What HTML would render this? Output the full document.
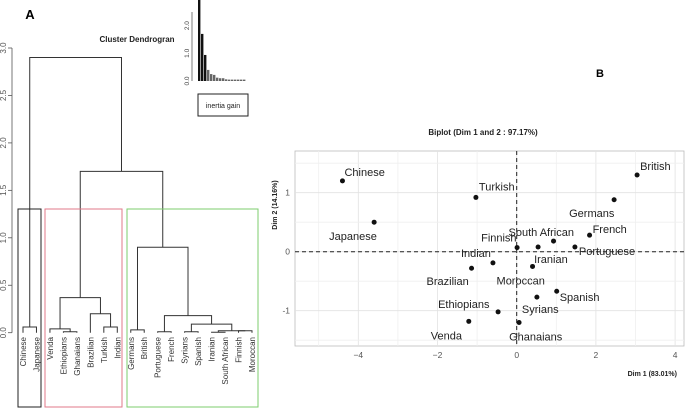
<!DOCTYPE html>
<html><head><meta charset="utf-8"><style>
body{margin:0;background:#fff;}
svg{display:block;font-family:"Liberation Sans",sans-serif;}
</style></head><body>
<svg id="c" width="685" height="408" viewBox="0 0 685 408">
<g id="dend"></g>
<g id="inset"></g>
<g id="bip"></g>
</svg>
<script>
// ---------- dendrogram data ----------
const leaves = ["Chinese","Japanese","Venda","Ethiopians","Ghanaians","Brazilian","Turkish","Indian","Germans","British","Portuguese","French","Syrians","Spanish","Iranian","South African","Finnish","Moroccan"];
// merges: negative = leaf index (1-based), positive = earlier merge (1-based)
const mergeA = [-1,-4,-3,-7,-6,-9,-11,-13,-17,-15,10,8,7,6,3,15,1];
const mergeB = [-2,-5,2,-8,4,-10,-12,-14,-18,-16,9,11,12,13,5,14,16];
const mergeH = [0.06,0.01,0.04,0.06,0.2,0.03,0.01,0.01,0.02,0.005,0.02,0.09,0.18,0.9,0.37,1.7,2.9];
const inertia = [3.2,1.7,0.94,0.4,0.25,0.22,0.12,0.1,0.1,0.06,0.05,0.05,0.05,0.05,0.05,0.05];
const dTicks = [0,0.5,1,1.5,2,2.5,3];
// ---------- biplot data ----------
const names = ["Chinese","Japanese","Turkish","British","Germans","French","South African","Portuguese","Iranian","Finnish","Indian","Brazilian","Moroccan","Spanish","Syrians","Ethiopians","Venda","Ghanaians"];
const dim1 = [-4.40,-3.60,-1.03,3.04,2.46,1.84,0.93,1.47,0.54,0.01,-0.60,-1.14,0.40,1.01,0.51,-0.47,-1.21,0.06];
const dim2 = [1.20,0.50,0.92,1.30,0.88,0.28,0.18,0.08,0.08,0.07,-0.19,-0.28,-0.25,-0.67,-0.77,-1.02,-1.18,-1.20];
const xTicks = [-4,-2,0,2,4];
const yTicks = [-1,0,1];
// label offsets (style)
const ldx=[2,-45,3,3,-45,3,-45,4,-4,-36,-32,-45,-36,3,-15,-60,-38,-10];
const ldy=[-5,18,-7,-5,17,-2,-5,8,16,-6,-6,17,18,10,16,-4,18,18];

const NS="http://www.w3.org/2000/svg";
function mk(p,t,a,txt){const e=document.createElementNS(NS,t);for(const k in a)e.setAttribute(k,a[k]);if(txt!==undefined)e.textContent=txt;p.appendChild(e);return e;}

// ===== dendrogram =====
const D=document.getElementById('dend');
const dy=v=>332.7-v*94.9;
const lx=i=>23+i*13.47;
mk(D,'text',{x:30,y:19,'font-size':13,'font-weight':'bold','text-anchor':'middle',},'A');
mk(D,'text',{x:137,y:42,'font-size':8,'font-weight':'bold','text-anchor':'middle',fill:'#222',},'Cluster Dendrogran');
let ax=mk(D,'line',{x1:12,x2:12,y1:dy(0),y2:dy(3),stroke:'#555','stroke-width':0.8});

dTicks.forEach(t=>{const y=dy(t);
 const l=mk(D,'line',{x1:8,x2:12,y1:y,y2:y,stroke:'#555','stroke-width':0.8});
 
 const tx=mk(D,'text',{x:6,y:y,'font-size':8,fill:'#555','text-anchor':'middle',transform:`rotate(-90 6 ${y})`},t.toFixed(1));
 });
const pos=[];
function node(r){ if(r<0){return {x:lx(-r-1),h:0};} return pos[r-1]; }
for(let i=0;i<mergeA.length;i++){
 const a=node(mergeA[i]),b=node(mergeB[i]),h=mergeH[i];
 const p=mk(D,'path',{d:`M${a.x},${dy(a.h)}V${dy(h)}H${b.x}V${dy(b.h)}`,fill:'none',stroke:'#333','stroke-width':1});
 
 pos.push({x:(a.x+b.x)/2,h:h});
}
leaves.forEach((n,i)=>{const x=lx(i)+3,y=337;
 const t=mk(D,'text',{x:x,y:y,'font-size':8,fill:'#333','text-anchor':'end',transform:`rotate(-90 ${x} ${y})`},n);
 });
[[18,41,'#222','cluster-box-1'],[45,122,'#e07a8a','cluster-box-2'],[127,258,'#7ccd6e','cluster-box-3']].forEach(b=>{
 const r=mk(D,'rect',{x:b[0],y:209,width:b[1]-b[0],height:198,fill:'none',stroke:b[2],'stroke-width':1});
 });

// ===== inset =====
const I=document.getElementById('inset');
const iy=v=>Math.max(0,81-v*27.7);
mk(I,'line',{x1:192,x2:192,y1:81,y2:12,stroke:'#444','stroke-width':0.7,});
[0,1,2].forEach(t=>{const y=81-t*27.7;
 const tx=mk(I,'text',{x:189,y:y,'font-size':6.5,fill:'#444','text-anchor':'middle',transform:`rotate(-90 189 ${y})`},t.toFixed(1));
 });
inertia.forEach((v,i)=>{const x=198+i*3;
 const r=mk(I,'rect',{x:x,y:iy(v),width:2.4,height:81-iy(v),fill:i<3?'#111':'#666'});
 });
mk(I,'rect',{x:198,y:94,width:50,height:22,fill:'#fff',stroke:'#222','stroke-width':1,});
mk(I,'text',{x:223,y:108,'font-size':7,'text-anchor':'middle',fill:'#222',},'inertia gain');

// ===== biplot =====
const B=document.getElementById('bip');
const bx=v=>516.7+v*39.6, by=v=>251.7-v*59;
mk(B,'text',{x:600,y:77,'font-size':11,'font-weight':'bold','text-anchor':'middle',},'B');
mk(B,'text',{x:483,y:135,'font-size':8,'font-weight':'bold','text-anchor':'middle',fill:'#222',},'Biplot (Dim 1 and 2 : 97.17%)');
mk(B,'rect',{x:295,y:151,width:389,height:195,fill:'#fff',stroke:'#bbb','stroke-width':0.8,});
for(let v=-5;v<=4.5;v+=1){ if(bx(v)<295||bx(v)>684)continue;
 const l=mk(B,'line',{x1:bx(v),x2:bx(v),y1:151,y2:346,stroke:Number.isInteger(v/2)?'#e2e2e2':'#efefef','stroke-width':0.8});
 }
for(let v=-1.5;v<=1.5;v+=0.5){ const l=mk(B,'line',{x1:295,x2:684,y1:by(v),y2:by(v),stroke:Number.isInteger(v)?'#e2e2e2':'#efefef','stroke-width':0.8});
 }
mk(B,'line',{x1:295,x2:684,y1:by(0),y2:by(0),stroke:'#222','stroke-dasharray':'4,3','stroke-width':1,});
mk(B,'line',{x1:bx(0),x2:bx(0),y1:151,y2:346,stroke:'#222','stroke-dasharray':'4,3','stroke-width':1,});
xTicks.forEach(t=>{const tx=mk(B,'text',{x:bx(t),y:358,'font-size':8.5,fill:'#555','text-anchor':'middle'},t===0?'0':String(t).replace('-','−'));
 });
yTicks.forEach(t=>{const tx=mk(B,'text',{x:290,y:by(t)+3,'font-size':8.5,fill:'#555','text-anchor':'end'},String(t));
 });
mk(B,'text',{x:677,y:376,'font-size':7,'font-weight':'bold','text-anchor':'end',fill:'#222',},'Dim 1 (83.01%)');
mk(B,'text',{x:277,y:205,'font-size':7,'font-weight':'bold','text-anchor':'middle',fill:'#222',transform:'rotate(-90 277 205)',},'Dim 2 (14.16%)');
names.forEach((n,i)=>{const x=bx(dim1[i]),y=by(dim2[i]);
 const c=mk(B,'circle',{cx:x,cy:y,r:2.5,fill:'#111'});
 
 const t=mk(B,'text',{x:x+ldx[i],y:y+ldy[i],'font-size':11,fill:'#222'},n);
 });
</script>
</body></html>
